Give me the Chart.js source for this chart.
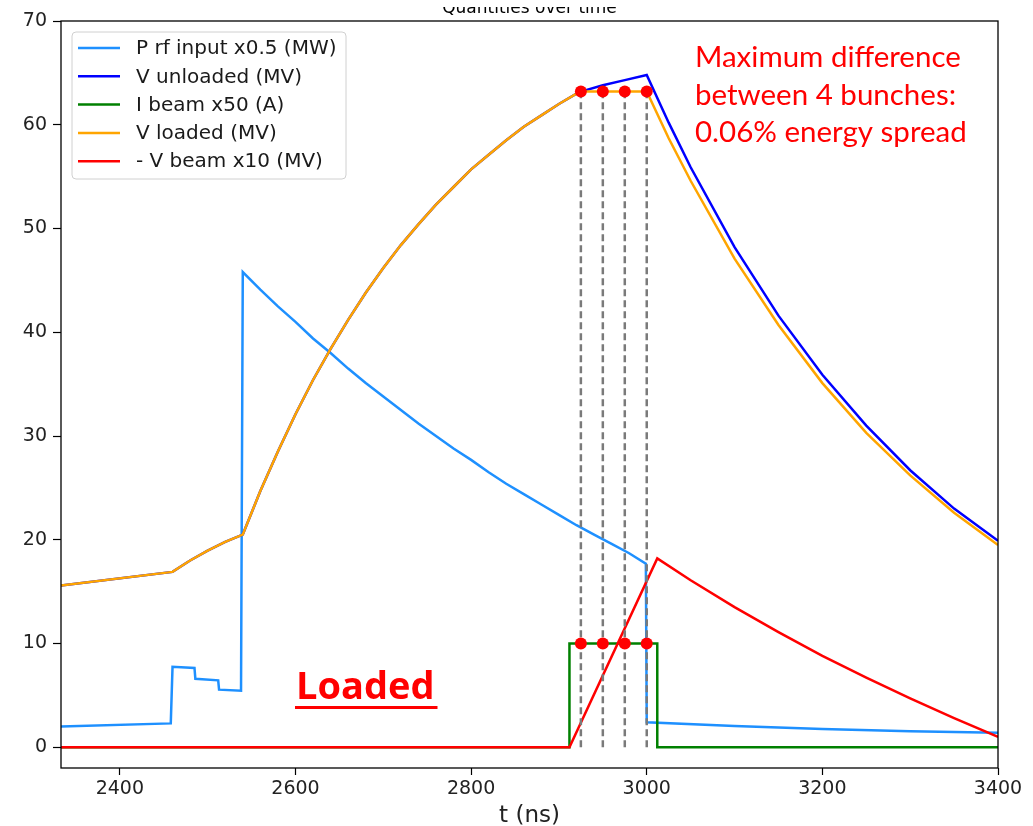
<!DOCTYPE html>
<html>
<head>
<meta charset="utf-8">
<script src="https://cdn.jsdelivr.net/npm/chart.js@4.4.0/dist/chart.umd.min.js"></script>
<style>
  html, body { margin: 0; padding: 0; background: #fff; }
  canvas { display: block; }
</style>
</head>
<body>
<canvas id="cavityChart" width="1033" height="826"></canvas>
<script>
// RF input power (x0.5, MW)
const tPrf = [2333, 2458, 2460, 2485, 2486, 2512, 2513, 2538, 2540,
  2560, 2580, 2600, 2620, 2640, 2660, 2680, 2700, 2720, 2740, 2760,
  2780, 2800, 2820, 2840, 2860, 2880, 2900, 2920, 2940, 2960, 2980,
  2999, 3000, 3100, 3200, 3300, 3400];
const pPrf = [2.0, 2.3, 7.75, 7.65, 6.6, 6.45, 5.55, 5.45, 45.8,
  44.1, 42.5, 41.0, 39.4, 38.0, 36.5, 35.1, 33.8, 32.5, 31.2, 30.0,
  28.8, 27.7, 26.5, 25.4, 24.4, 23.4, 22.4, 21.4, 20.5, 19.6, 18.7,
  17.7, 2.4, 2.05, 1.75, 1.55, 1.4];

// cavity voltage while filling (loaded and unloaded are the same here)
const tCharge = [2333, 2460, 2480, 2500, 2520, 2540, 2560, 2580, 2600,
  2620, 2640, 2660, 2680, 2700, 2720, 2740, 2760, 2780, 2800, 2820,
  2840, 2860, 2880, 2900, 2920, 2925];
const vCharge = [15.6, 16.9, 18.0, 18.95, 19.8, 20.5, 24.7, 28.5, 32.1,
  35.4, 38.4, 41.2, 43.8, 46.2, 48.4, 50.4, 52.3, 54.0, 55.7, 57.1,
  58.5, 59.8, 60.9, 62.0, 63.0, 63.2];

// after the first bunch
const tTail = [2950, 2975, 3000, 3025, 3050, 3100, 3150, 3200, 3250, 3300, 3350, 3400];
const vUnloadedTail = [63.8, 64.3, 64.8, 60.2, 55.9, 48.2, 41.6, 35.9, 31.0, 26.7, 23.0, 19.9];
const vLoadedTail = [63.2, 63.2, 63.2, 58.7, 54.6, 47.1, 40.7, 35.1, 30.3, 26.2, 22.6, 19.5];

// beam current (x50, A)
const tBeam = [2333, 2912, 2912, 3012, 3012, 3400];
const iBeam = [0, 0, 10, 10, 0, 0];

// beam induced voltage (x10, MV, sign flipped)
const tVbeam = [2333, 2912, 3012, 3050, 3100, 3150, 3200, 3250, 3300, 3350, 3400];
const vBeam = [0, 0, 18.2, 16.1, 13.5, 11.1, 8.8, 6.7, 4.7, 2.8, 1.0];

// bunch arrival times
const bunchTimes = [2925, 2950, 2975, 3000];
const bunchVoltage = [63.2, 63.2, 63.2, 63.2];
const bunchCurrent = [10, 10, 10, 10];

const xTicks = [2400, 2600, 2800, 3000, 3200, 3400];
const yTicks = [0, 10, 20, 30, 40, 50, 60, 70];

const seriesLabels = ['P rf input x0.5 (MW)', 'V unloaded (MV)', 'I beam x50 (A)', 'V loaded (MV)', '- V beam x10 (MV)'];
const seriesColors = ['#1e90ff', '#0000ff', '#008000', '#ffa500', '#ff0000'];

function pairs(ts, vs) {
  return ts.map((t, i) => ({ x: t, y: vs[i] }));
}

const seriesData = [
  pairs(tPrf, pPrf),
  pairs(tCharge.concat(tTail), vCharge.concat(vUnloadedTail)),
  pairs(tBeam, iBeam),
  pairs(tCharge.concat(tTail), vCharge.concat(vLoadedTail)),
  pairs(tVbeam, vBeam)
];

const datasets = [];
// later datasets sit on top, so lower "order"
seriesData.forEach((d, i) => {
  datasets.push({
    label: seriesLabels[i],
    data: d,
    borderColor: seriesColors[i],
    borderWidth: 2.5,
    pointRadius: 0,
    tension: 0,
    fill: false,
    order: 20 - i
  });
});

bunchTimes.forEach((t, i) => {
  datasets.push({
    label: 'bunch ' + (i + 1),
    data: [{ x: t, y: 0 }, { x: t, y: bunchVoltage[i] }],
    borderColor: '#7a7a7a',
    borderWidth: 2.5,
    borderDash: [7, 4],
    pointRadius: 0,
    fill: false,
    order: 10 - i
  });
});

datasets.push({
  label: 'bunch points',
  data: pairs(bunchTimes, bunchVoltage).concat(pairs(bunchTimes, bunchCurrent)),
  showLine: false,
  pointRadius: 6,
  pointBackgroundColor: '#ff0000',
  pointBorderColor: '#ff0000',
  pointBorderWidth: 0,
  order: 0
});

// frame, legend box and the text notes
const extras = {
  id: 'extras',
  afterDraw(chart) {
    const ctx = chart.ctx;
    const a = chart.chartArea;
    ctx.save();

    ctx.strokeStyle = '#000';
    ctx.lineWidth = 1.3;
    ctx.strokeRect(a.left, a.top, a.right - a.left, a.bottom - a.top);

    // title, mostly cut off at the top edge
    ctx.save();
    ctx.beginPath();
    ctx.rect(0, 7, chart.width, 14);
    ctx.clip();
    ctx.fillStyle = '#000';
    ctx.font = '17px "DejaVu Sans"';
    ctx.textAlign = 'center';
    ctx.textBaseline = 'alphabetic';
    ctx.fillText('Quantities over time', (a.left + a.right) / 2, 13);
    ctx.restore();

    // legend
    ctx.beginPath();
    ctx.roundRect(72, 32, 274, 147, 4);
    ctx.fillStyle = 'rgba(255,255,255,0.8)';
    ctx.fill();
    ctx.strokeStyle = '#d0d0d0';
    ctx.lineWidth = 1;
    ctx.stroke();
    ctx.font = '20px "DejaVu Sans"';
    ctx.textAlign = 'left';
    ctx.textBaseline = 'middle';
    seriesLabels.forEach((lab, i) => {
      const y = 48 + i * 28.3;
      ctx.strokeStyle = seriesColors[i];
      ctx.lineWidth = 2.5;
      ctx.beginPath();
      ctx.moveTo(78, y);
      ctx.lineTo(120, y);
      ctx.stroke();
      ctx.fillStyle = '#1a1a1a';
      ctx.fillText(lab, 136, y + 1);
    });

    // notes
    ctx.fillStyle = '#ff0000';
    ctx.textBaseline = 'alphabetic';
    ctx.font = '29.5px Lato';
    ctx.fillText('Maximum difference', 695, 67);
    ctx.fillText('between 4 bunches:', 695, 104.5);
    ctx.fillText('0.06% energy spread', 695, 142);

    ctx.font = 'bold 38px "Open Sans"';
    ctx.fillText('Loaded', 296, 699);
    const w = ctx.measureText('Loaded').width;
    ctx.fillRect(295, 706, w + 4, 3);

    ctx.restore();
  }
};

new Chart(document.getElementById('cavityChart'), {
  type: 'line',
  data: { datasets: datasets },
  options: {
    responsive: false,
    animation: false,
    layout: { padding: { top: 21, right: 35, left: 0, bottom: 0 } },
    plugins: {
      legend: { display: false },
      tooltip: { enabled: false },
      title: { display: false }
    },
    scales: {
      x: {
        type: 'linear',
        min: 2333,
        max: 3400,
        afterBuildTicks: s => { s.ticks = xTicks.map(v => ({ value: v })); },
        afterFit: s => { s.height = 58; },
        grid: { drawOnChartArea: false, tickLength: 7, tickColor: '#000', tickWidth: 1.2 },
        border: { display: false },
        ticks: {
          color: '#222',
          padding: 3,
          maxRotation: 0,
          callback: v => String(v),
          font: { family: 'DejaVu Sans', size: 19 }
        },
        title: {
          display: true,
          text: 't (ns)',
          color: '#222',
          padding: { top: 0, bottom: 0 },
          font: { family: 'DejaVu Sans', size: 23, lineHeight: 0.85 }
        }
      },
      y: {
        type: 'linear',
        min: -2,
        max: 70,
        afterBuildTicks: s => { s.ticks = yTicks.map(v => ({ value: v })); },
        afterFit: s => { s.width = 61; },
        grid: { drawOnChartArea: false, tickLength: 8, tickColor: '#000', tickWidth: 1.2 },
        border: { display: false },
        ticks: {
          color: '#222',
          padding: 6,
          callback: v => String(v),
          font: { family: 'DejaVu Sans', size: 19 }
        }
      }
    }
  },
  plugins: [extras]
});
</script>
</body>
</html>
